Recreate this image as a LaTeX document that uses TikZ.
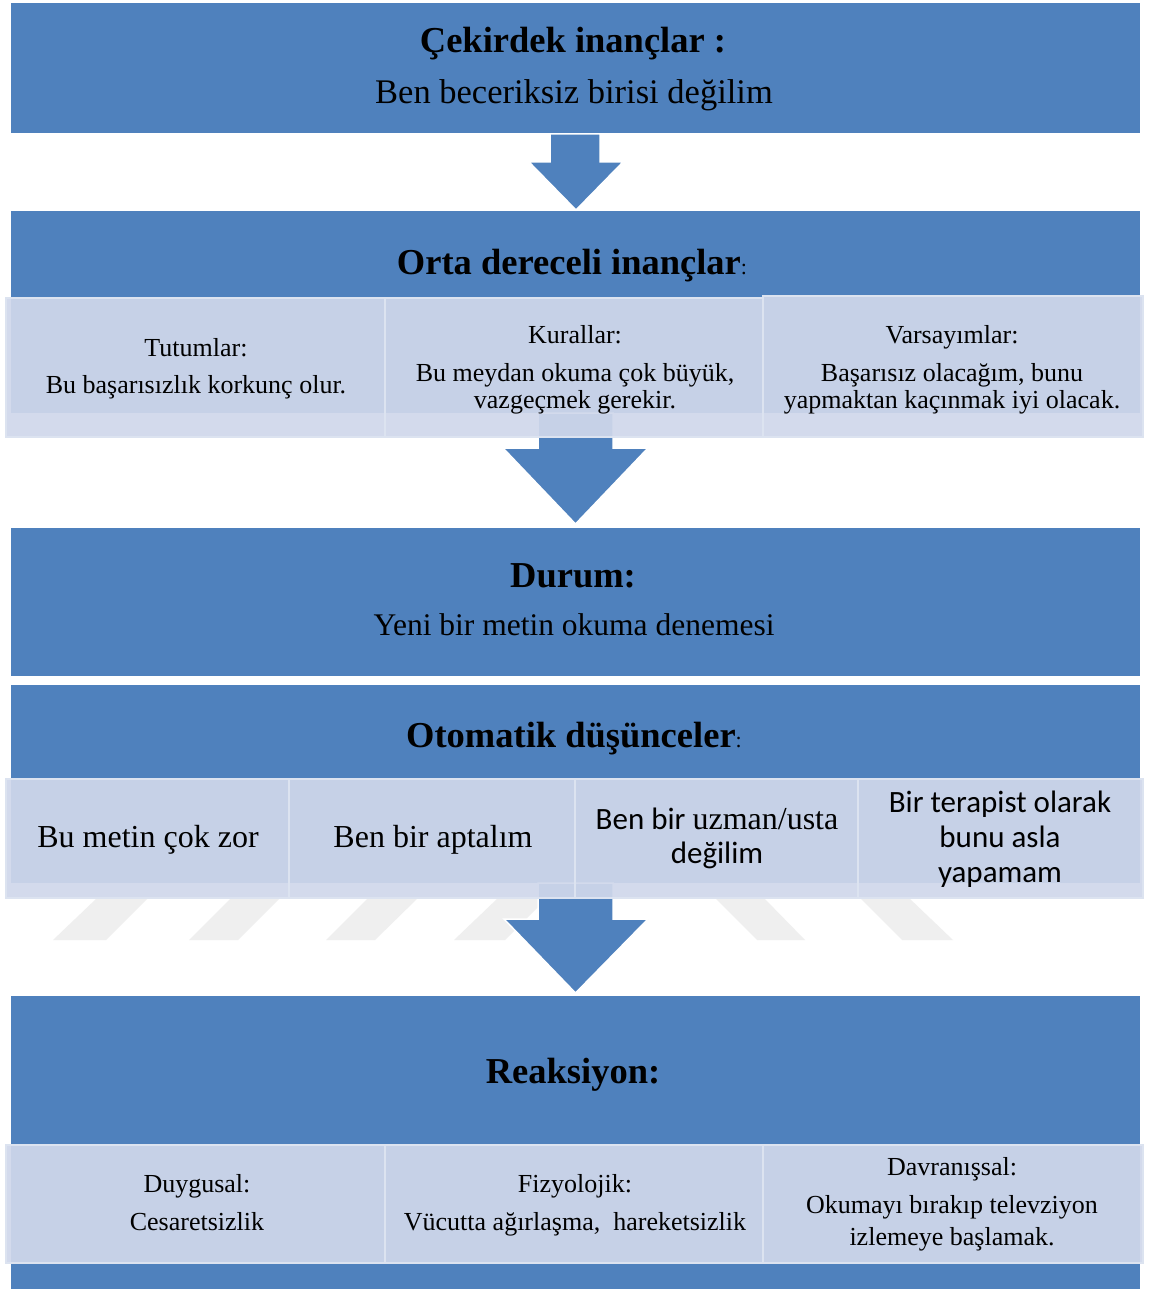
\documentclass[tikz,border=0pt]{standalone}
\usepackage{fontspec}
\setmainfont{Liberation Serif}
\newfontfamily\calib{Carlito}
\usetikzlibrary{calc}
\definecolor{boxblue}{HTML}{4F81BD}
\definecolor{childfill}{HTML}{D0D8EB}
\definecolor{childline}{HTML}{DCE3F0}
\definecolor{wmark}{HTML}{EFEFEF}
\begin{document}
\begin{tikzpicture}[x=1pt,y=-1pt,
  bluebox/.style={fill=boxblue, draw=white, line width=1pt, inner sep=0pt, outer sep=0pt},
  childbox/.style={fill=childfill, fill opacity=0.925, draw=childline, line width=1.5pt, inner sep=0pt, outer sep=0pt},
  blockarrow/.style={fill=boxblue, draw=white, line width=1.5pt, line join=miter},
  headtxt/.style={anchor=base, inner sep=0pt, font=\fontsize{36.5}{40}\selectfont\bfseries},
  bodytxt/.style={anchor=base, inner sep=0pt, font=\fontsize{33}{38}\selectfont},
  smalltxt/.style={anchor=base, inner sep=0pt, font=\fontsize{26}{30}\selectfont},
  midtxt/.style={anchor=base, inner sep=0pt, font=\fontsize{32}{36}\selectfont},
  sanstxt/.style={anchor=base, inner sep=0pt, font=\calib\fontsize{31}{36}\selectfont},
  wm/.style={fill=wmark}
]
\useasboundingbox (0,0) rectangle (1148,1289);
\fill[white] (0,0) rectangle (1148,1289);

% blue boxes
\node[bluebox, minimum width=1130pt, minimum height=131pt] (b1) at (575,68.5) {};
\node[bluebox, minimum width=1130pt, minimum height=202pt] (b2) at (575,312) {};
\node[bluebox, minimum width=1130pt, minimum height=149pt] (b3) at (575,601.5) {};
\node[bluebox, minimum width=1130pt, minimum height=199pt] (b4) at (575,783.5) {};
\node[bluebox, minimum width=1130pt, minimum height=294pt] (b5) at (575,1142) {};

% watermark stripes
\fill[wm] (53,940) -- (106,940) -- (148,898) -- (97,898) -- cycle;
\fill[wm] (189,940) -- (238,940) -- (280,898) -- (231,898) -- cycle;
\fill[wm] (326,940) -- (375,940) -- (418,898) -- (368,898) -- cycle;
\fill[wm] (454,940) -- (505,940) -- (547,898) -- (498,898) -- cycle;
\fill[wm] (715,898) -- (764,898) -- (805,940) -- (757,940) -- cycle;
\fill[wm] (860,898) -- (909,898) -- (953,940) -- (902,940) -- cycle;

% block arrows
\draw[blockarrow] ($(b1.south)+(-25,0)$) -- ($(b1.south)+(25,0)$) -- ($(b1.south)+(25,28)$) -- ($(b1.south)+(48,28)$) -- ($(b2.north)+(1,-1)$) -- ($(b1.south)+(-46,28)$) -- ($(b1.south)+(-25,28)$) -- cycle;
\draw[blockarrow] ($(b2.south)+(-37,0)$) -- ($(b2.south)+(38,0)$) -- ($(b2.south)+(38,35)$) -- ($(b2.south)+(73,35)$) -- ($(b3.north)+(0.5,-3)$) -- ($(b2.south)+(-72,35)$) -- ($(b2.south)+(-37,35)$) -- cycle;
\draw[blockarrow] ($(b4.south)+(-37,0)$) -- ($(b4.south)+(38,0)$) -- ($(b4.south)+(38,36)$) -- ($(b4.south)+(73,36)$) -- ($(b5.north)+(0.5,-2)$) -- ($(b4.south)+(-71,36)$) -- ($(b4.south)+(-37,36)$) -- cycle;

% child boxes
\node[childbox, minimum width=379pt, minimum height=139pt] (c21) at (195.5,367.5) {};
\node[childbox, minimum width=378pt, minimum height=139pt] (c22) at (574,367.5) {};
\node[childbox, minimum width=380pt, minimum height=141pt] (c23) at (953,366.5) {};
\node[childbox, minimum width=283pt, minimum height=119pt] (c41) at (147.5,838.5) {};
\node[childbox, minimum width=286pt, minimum height=119pt] (c42) at (432,838.5) {};
\node[childbox, minimum width=283pt, minimum height=119pt] (c43) at (716.5,838.5) {};
\node[childbox, minimum width=285pt, minimum height=119pt] (c44) at (1000.5,838.5) {};
\node[childbox, minimum width=379pt, minimum height=118pt] (c51) at (195.5,1204) {};
\node[childbox, minimum width=378pt, minimum height=118pt] (c52) at (574,1204) {};
\node[childbox, minimum width=380pt, minimum height=118pt] (c53) at (953,1204) {};

% texts box 1
\node[headtxt] (t1h) at (573,53) {Çekirdek inançlar :};
\node[bodytxt, font=\fontsize{34.5}{38}\selectfont] (t1b) at (574,104) {Ben beceriksiz birisi değilim};

% box 2
\node[headtxt] (t2h) at (572,274) {Orta dereceli inançlar{\mdseries\fontsize{22}{22}\selectfont :}};
\node[smalltxt] (t21a) at (196,356) {Tutumlar:};
\node[smalltxt] (t21b) at (196,393) {Bu başarısızlık korkunç olur.};
\node[smalltxt] (t22a) at (575,343) {Kurallar:};
\node[smalltxt] (t22b) at (575,381) {Bu meydan okuma çok büyük,};
\node[smalltxt] (t22c) at (575,408) {vazgeçmek gerekir.};
\node[smalltxt] (t23a) at (952,343) {Varsayımlar:};
\node[smalltxt] (t23b) at (952,381) {Başarısız olacağım, bunu};
\node[smalltxt] (t23c) at (952,408) {yapmaktan kaçınmak iyi olacak.};

% box 3
\node[headtxt] (t3h) at (573,587) {Durum:};
\node[bodytxt, font=\fontsize{31.5}{36}\selectfont] (t3b) at (574,635) {Yeni bir metin okuma denemesi};

% box 4
\node[headtxt] (t4h) at (574,747) {Otomatik düşünceler{\mdseries\fontsize{22}{22}\selectfont :}};
\node[midtxt] (t41) at (148,847) {Bu metin çok zor};
\node[midtxt] (t42) at (433,847) {Ben bir aptalım};
\node[midtxt] (t43a) at (717,829) {{\calib\fontsize{31}{36}\selectfont Ben bir }uzman/usta};
\node[sanstxt] (t43b) at (717,863) {değilim};
\node[sanstxt] (t44a) at (1000,812) {Bir terapist olarak};
\node[sanstxt] (t44b) at (1000,847) {bunu asla};
\node[sanstxt] (t44c) at (1000,882) {yapamam};

% box 5
\node[headtxt] (t5h) at (573,1083) {Reaksiyon:};
\node[smalltxt] (t51a) at (197,1192) {Duygusal:};
\node[smalltxt] (t51b) at (197,1230) {Cesaretsizlik};
\node[smalltxt] (t52a) at (575,1192) {Fizyolojik:};
\node[smalltxt] (t52b) at (575,1230) {Vücutta ağırlaşma,\ \ hareketsizlik};
\node[smalltxt] (t53a) at (952,1175) {Davranışsal:};
\node[smalltxt] (t53b) at (952,1213) {Okumayı bırakıp televziyon};
\node[smalltxt] (t53c) at (952,1245) {izlemeye başlamak.};
\end{tikzpicture}
\end{document}
